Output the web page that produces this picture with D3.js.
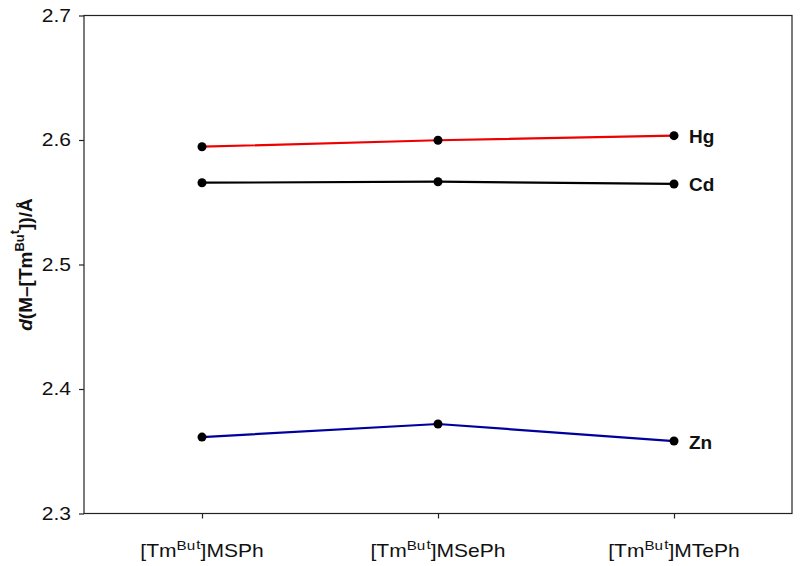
<!DOCTYPE html>
<html>
<head>
<meta charset="utf-8">
<script src="https://cdn.jsdelivr.net/npm/d3@7"></script>
<style>
  body { margin: 0; background: #fff; }
  svg text { font-family: "Liberation Sans", Arial, Helvetica, sans-serif; }
</style>
</head>
<body>
<svg id="chart" width="800" height="566"></svg>
<script>
const categories = ["MSPh", "MSePh", "MTePh"];
const yTicks = [2.3, 2.4, 2.5, 2.6, 2.7];
const seriesNames = ["Hg", "Cd", "Zn"];
const hgValues = [2.5946, 2.5998, 2.6035];
const cdValues = [2.5657, 2.5665, 2.5647];
const znValues = [2.3614, 2.3719, 2.3582];
const seriesColors = ["#ee0000", "#000000", "#00009c"];

const series = [
  { name: seriesNames[0], values: hgValues, color: seriesColors[0] },
  { name: seriesNames[1], values: cdValues, color: seriesColors[1] },
  { name: seriesNames[2], values: znValues, color: seriesColors[2] }
];

const svg = d3.select("#chart");
const margin = { left: 84, right: 8, top: 15.5, bottom: 52.5 };
const W = 800, H = 566;
const SX = 1.17; // horizontal stretch of the original text
const x = d3.scalePoint().domain(categories).range([margin.left, W - margin.right]).padding(0.5);
const y = d3.scaleLinear().domain([2.3, 2.7]).range([H - margin.bottom, margin.top]);

// frame
svg.append("rect")
  .attr("x", margin.left).attr("y", margin.top)
  .attr("width", W - margin.right - margin.left)
  .attr("height", H - margin.bottom - margin.top)
  .attr("fill", "none").attr("stroke", "#222").attr("stroke-width", 1.2);

// y axis
const yAxis = svg.append("g")
  .attr("transform", `translate(${margin.left},0)`)
  .call(d3.axisLeft(y).tickValues(yTicks).tickFormat(d3.format(".1f")).tickSize(5).tickPadding(8));
yAxis.select(".domain").remove();
yAxis.selectAll("line").attr("stroke", "#222").attr("stroke-width", 1.2);
yAxis.selectAll("text")
  .attr("x", -13 / SX)
  .attr("transform", `scale(${SX},1)`)
  .attr("font-size", 18).attr("fill", "#111")
  .style("font-family", "'Liberation Sans', Arial, sans-serif");

// x axis
const xAxis = svg.append("g")
  .attr("transform", `translate(0,${H - margin.bottom})`)
  .call(d3.axisBottom(x).tickSize(5).tickFormat(""));
xAxis.select(".domain").remove();
xAxis.selectAll("line").attr("stroke", "#222").attr("stroke-width", 1.2);

// x labels with superscripts
categories.forEach(c => {
  const t = svg.append("text")
    .attr("transform", `translate(${x(c)},557) scale(${SX},1)`)
    .attr("text-anchor", "middle")
    .attr("font-size", 18).attr("fill", "#111");
  t.append("tspan").text("[Tm");
  t.append("tspan").attr("font-size", 13).attr("dy", -7).text("Bu");
  t.append("tspan").attr("font-size", 13).attr("dx", 1).attr("dy", -1).text("t");
  t.append("tspan").attr("dy", 8).text("]" + c);
});

// y title
const yt = svg.append("text")
  .attr("transform", `translate(32,${(margin.top + H - margin.bottom) / 2}) rotate(-90)`)
  .attr("text-anchor", "middle")
  .attr("font-size", 19).attr("font-weight", "bold").attr("fill", "#111");
yt.append("tspan").attr("font-style", "italic").text("d");
yt.append("tspan").text("(M\u2013[Tm");
yt.append("tspan").attr("font-size", 13).attr("dy", -8).text("Bu");
yt.append("tspan").attr("font-size", 13).attr("dy", -5).text("t");
yt.append("tspan").attr("dy", 13).text("])/\u00C5");

// lines and points
const line = d3.line().x((d, i) => x(categories[i])).y(d => y(d));
series.forEach(s => {
  svg.append("path")
    .datum(s.values)
    .attr("d", line)
    .attr("fill", "none")
    .attr("stroke", s.color)
    .attr("stroke-width", 2.2);
  svg.selectAll(null)
    .data(s.values)
    .enter().append("circle")
    .attr("cx", (d, i) => x(categories[i]))
    .attr("cy", d => y(d))
    .attr("r", 4.5)
    .attr("fill", "#000");
  const last = s.values[s.values.length - 1];
  svg.append("text")
    .attr("x", x(categories[categories.length - 1]) + 15)
    .attr("y", y(last) + 7.5)
    .attr("font-size", 19).attr("font-weight", "bold").attr("fill", "#111")
    .text(s.name);
});
</script>
</body>
</html>
